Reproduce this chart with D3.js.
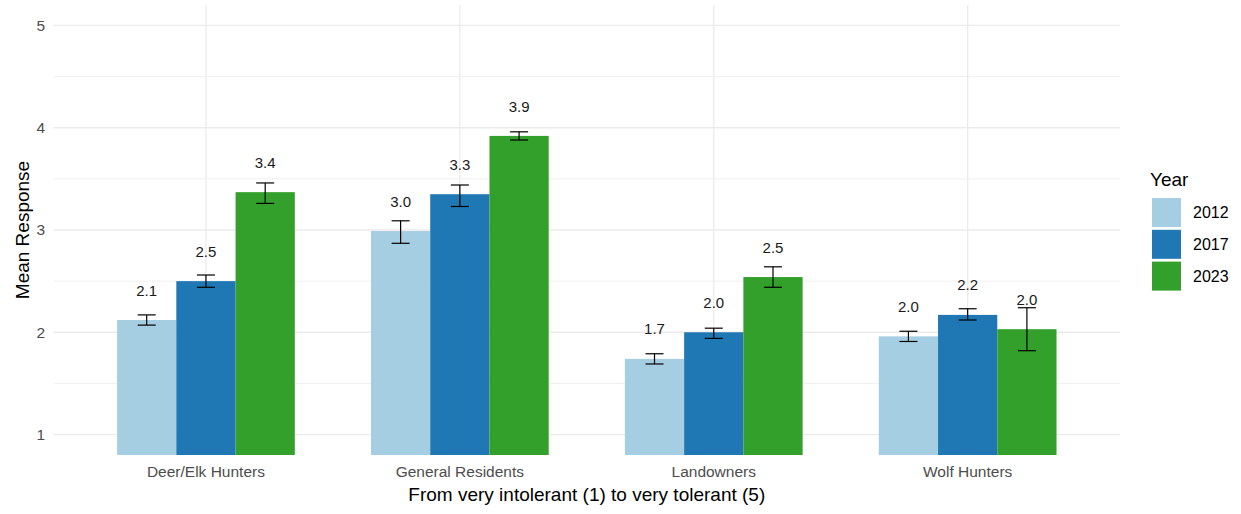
<!DOCTYPE html>
<html><head><meta charset="utf-8">
<script src="https://cdn.jsdelivr.net/npm/d3@7"></script>
<style>body{margin:0;background:#fff}svg{display:block}text{font-family:"Liberation Sans",Arial,sans-serif}</style>
</head><body><svg id="c" width="1241" height="514"></svg>
<script>
const groups = ["Deer/Elk Hunters","General Residents","Landowners","Wolf Hunters"];
const years = ["2012","2017","2023"];
const colors = ["#a6cee3","#1f78b4","#33a02c"];
const mean2012 = [2.12, 2.99, 1.74, 1.96];
const mean2017 = [2.50, 3.35, 2.00, 2.17];
const mean2023 = [3.37, 3.92, 2.54, 2.03];
const lo2012 = [2.07, 2.87, 1.69, 1.91];
const hi2012 = [2.17, 3.09, 1.79, 2.01];
const lo2017 = [2.44, 3.23, 1.94, 2.12];
const hi2017 = [2.56, 3.44, 2.04, 2.23];
const lo2023 = [3.26, 3.88, 2.44, 1.82];
const hi2023 = [3.46, 3.96, 2.64, 2.24];
const labels2012 = ["2.1","3.0","1.7","2.0"];
const labels2017 = ["2.5","3.3","2.0","2.2"];
const labels2023 = ["3.4","3.9","2.5","2.0"];
const yTicks = [1,2,3,4,5];
const yMinor = [1.5,2.5,3.5,4.5];

const means=[mean2012,mean2017,mean2023], los=[lo2012,lo2017,lo2023], his=[hi2012,hi2017,hi2023], labs=[labels2012,labels2017,labels2023];
const data=[];
groups.forEach((g,i)=>years.forEach((yr,j)=>data.push({g,yr,j,v:means[j][i],lo:los[j][i],hi:his[j][i],lab:labs[j][i]})));

const svg=d3.select("#c");
const L=53.6,R=1120,T=5,B=455;
const step=(R-L)/4.2;
const x=d3.scalePoint().domain(groups).range([L+0.6*step,R-0.6*step]);
const cx=g=>x(g);
const y=d3.scaleLinear().domain([0.8,5.2]).range([B,T]);
const xs=d3.scaleBand().domain(years).range([-0.35*step,0.35*step]);

const grid=svg.append("g");
yMinor.forEach(t=>grid.append("line").attr("x1",L).attr("x2",R).attr("y1",y(t)).attr("y2",y(t)).attr("stroke","#f0f0f0").attr("stroke-width",1));
yTicks.forEach(t=>grid.append("line").attr("x1",L).attr("x2",R).attr("y1",y(t)).attr("y2",y(t)).attr("stroke","#ebebeb").attr("stroke-width",1.3));
groups.forEach(g=>grid.append("line").attr("x1",cx(g)).attr("x2",cx(g)).attr("y1",T).attr("y2",B).attr("stroke","#ebebeb").attr("stroke-width",1.3));

const plot=svg.append("g");
plot.selectAll("rect").data(data).join("rect")
 .attr("x",d=>cx(d.g)+xs(d.yr)).attr("width",xs.bandwidth())
 .attr("y",d=>y(d.v)).attr("height",d=>B-y(d.v))
 .attr("fill",d=>colors[d.j]);
const cap=9;
const eb=plot.append("g").attr("stroke","#000").attr("stroke-width",1.2);
data.forEach(d=>{
 const mx=cx(d.g)+xs(d.yr)+xs.bandwidth()/2;
 eb.append("line").attr("x1",mx).attr("x2",mx).attr("y1",y(d.hi)).attr("y2",y(d.lo));
 eb.append("line").attr("x1",mx-cap).attr("x2",mx+cap).attr("y1",y(d.hi)).attr("y2",y(d.hi));
 eb.append("line").attr("x1",mx-cap).attr("x2",mx+cap).attr("y1",y(d.lo)).attr("y2",y(d.lo));
});
plot.selectAll("text.lab").data(data).join("text").attr("class","lab")
 .attr("x",d=>cx(d.g)+xs(d.yr)+xs.bandwidth()/2).attr("y",d=>y(d.v+0.29))
 .attr("dy","0.35em").attr("text-anchor","middle").attr("font-size",15).attr("fill","#1a1a1a").text(d=>d.lab);

// axes
yTicks.forEach(t=>svg.append("text").attr("x",45).attr("y",y(t)).attr("dy","0.35em").attr("text-anchor","end").attr("font-size",15.5).attr("fill","#4d4d4d").text(t));
groups.forEach(g=>svg.append("text").attr("x",cx(g)).attr("y",472).attr("dy","0.35em").attr("text-anchor","middle").attr("font-size",15.5).attr("fill","#4d4d4d").text(g));
svg.append("text").attr("x",(L+R)/2).attr("y",494).attr("dy","0.35em").attr("text-anchor","middle").attr("font-size",19).attr("fill","#000").text("From very intolerant (1) to very tolerant (5)");
svg.append("text").attr("transform",`translate(22,${(T+B)/2}) rotate(-90)`).attr("dy","0.35em").attr("text-anchor","middle").attr("font-size",19).attr("fill","#000").text("Mean Response");

// legend
const lg=svg.append("g");
lg.append("text").attr("x",1150).attr("y",179).attr("dy","0.35em").attr("font-size",19).attr("fill","#000").text("Year");
years.forEach((yr,j)=>{
 const ty=198+j*31.8;
 lg.append("rect").attr("x",1152).attr("y",ty).attr("width",29).attr("height",29).attr("fill",colors[j]);
 lg.append("text").attr("x",1193).attr("y",ty+14.5).attr("dy","0.35em").attr("font-size",16).attr("fill","#000").text(yr);
});
</script></body></html>
